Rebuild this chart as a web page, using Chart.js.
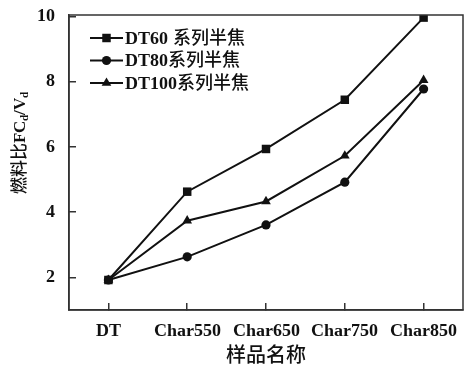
<!DOCTYPE html>
<html>
<head>
<meta charset="utf-8">
<script src="https://cdn.jsdelivr.net/npm/chart.js@4/dist/chart.umd.min.js"></script>
<style>
  html, body { margin: 0; padding: 0; background: #fff; }
  #wrap { width: 469px; height: 369px; }
  /* bold latin and medium CJK under their own names, picked by fallback */
  @font-face {
    font-family: "SerifBold";
    src: local("Liberation Serif Bold"), local("LiberationSerif-Bold");
    font-weight: normal;
  }
  @font-face {
    font-family: "CJKMedium";
    src: local("Noto Sans CJK SC Medium"), local("NotoSansCJKsc-Medium");
    font-weight: normal;
  }
</style>
</head>
<body>
<div id="wrap"><canvas id="chart" width="469" height="369"></canvas></div>
<script>
// data
var categories = ["DT", "Char550", "Char650", "Char750", "Char850"];
var dt60 = [1.92, 4.63, 5.94, 7.45, 9.97];
var dt80 = [1.92, 2.63, 3.61, 4.92, 7.78];
var dt100 = [1.92, 3.74, 4.33, 5.73, 8.05];
var seriesNames = ["DT60 系列半焦", "DT80系列半焦", "DT100系列半焦"];
var markerStyles = ["rect", "circle", "triangle"];
var markerSizes = [6, 4.6, 5.6];
var yTicks = [2, 4, 6, 8, 10];

var ink = "#111";
var serif = "SerifBold, 'Liberation Serif', CJKMedium, 'Noto Sans CJK SC', serif";

//frame round the plot area
var framePlugin = {
  id: "frame",
  afterDraw: function (chart) {
    var a = chart.chartArea, ctx = chart.ctx;
    ctx.save();
    ctx.strokeStyle = "#333";
    ctx.lineWidth = 1.5;
    ctx.strokeRect(a.left, a.top, a.right - a.left, a.bottom - a.top);
    ctx.restore();
  }
};

//legend inside the plot: line + marker + name
var legendPlugin = {
  id: "innerLegend",
  afterDraw: function (chart) {
    var ctx = chart.ctx, a = chart.chartArea;
    ctx.save();
    chart.data.datasets.forEach(function (ds, i) {
      var y = a.top + 23 + i * 22.5;
      var x0 = a.left + 21;
      ctx.strokeStyle = ink;
      ctx.lineWidth = 2;
      ctx.beginPath();
      ctx.moveTo(x0, y);
      ctx.lineTo(x0 + 33, y);
      ctx.stroke();
      ctx.fillStyle = ink;
      Chart.helpers.drawPoint(ctx, { pointStyle: ds.pointStyle, radius: ds.pointRadius, borderWidth: 0 }, x0 + 16.5, y);
      ctx.font = "18px " + serif;
      ctx.textBaseline = "middle";
      ctx.fillText(ds.label, x0 + 35, y + 1);
    });
    ctx.restore();
  }
};

//y title with subscripts (FC_d / V_d)
var yTitlePlugin = {
  id: "ytitle",
  afterDraw: function (chart) {
    var ctx = chart.ctx;
    var parts = [["燃料比", 17, 0], ["FC", 17, 0], ["d", 11, 4], ["/V", 17, 0], ["d", 11, 4]];
    ctx.save();
    ctx.fillStyle = ink;
    ctx.textBaseline = "middle";
    var total = 0;
    parts.forEach(function (p) {
      ctx.font = p[1] + "px " + serif;
      total += ctx.measureText(p[0]).width;
    });
    ctx.translate(21, 143);
    ctx.rotate(-Math.PI / 2);
    var x = -total / 2;
    parts.forEach(function (p) {
      ctx.font = p[1] + "px " + serif;
      ctx.fillText(p[0], x, p[2]);
      x += ctx.measureText(p[0]).width;
    });
    ctx.restore();
  }
};

function makeSet(i, data) {
  return {
    label: seriesNames[i],
    data: data,
    borderColor: ink,
    backgroundColor: ink,
    borderWidth: 2,
    pointStyle: markerStyles[i],
    pointRadius: markerSizes[i],
    pointBorderWidth: 0,
    pointBackgroundColor: ink,
    tension: 0
  };
}

function drawChart() {
  var ctx = document.getElementById("chart").getContext("2d");
  new Chart(ctx, {
    type: "line",
    data: {
      labels: categories,
      datasets: [makeSet(0, dt60), makeSet(1, dt80), makeSet(2, dt100)]
    },
    options: {
      responsive: false,
      animation: false,
      layout: { padding: { top: 15, right: 4, left: 0, bottom: 0 } },
      plugins: {
        tooltip: { enabled: false },
        legend: { display: false }
      },
      scales: {
        x: {
          offset: true,
          grid: { offset: false, drawOnChartArea: false, drawTicks: true, tickLength: -7, color: "#333", lineWidth: 1.5 },
          border: { color: "#333", width: 1.5 },
          ticks: { color: ink, padding: 18, maxRotation: 0, font: { family: serif, size: 18 } },
          title: { display: true, text: "样品名称", color: ink, padding: { top: 3, bottom: 0 }, font: { family: serif, size: 20 } },
          afterFit: function (scale) {
            scale.height = 59;
            scale.paddingLeft = 0;
            scale.paddingRight = 0;
          }
        },
        y: {
          min: 1,
          max: 10.05,
          grid: { drawOnChartArea: false, drawTicks: true, tickLength: -7, color: "#333", lineWidth: 1.5 },
          border: { color: "#333", width: 1.5 },
          ticks: { color: ink, padding: 21, font: { family: serif, size: 18 } },
          afterBuildTicks: function (scale) {
            scale.ticks = yTicks.map(function (v) { return { value: v }; });
          },
          afterFit: function (scale) {
            scale.width = 69;
            scale.paddingTop = 0;
            scale.paddingBottom = 0;
          }
        }
      }
    }
    ,
    plugins: [framePlugin, legendPlugin, yTitlePlugin]
  });
}

//wait for the local faces, then draw
Promise.all([
  document.fonts.load("18px SerifBold"),
  document.fonts.load("18px CJKMedium", "系")
]).then(drawChart, drawChart);
</script>
</body>
</html>
